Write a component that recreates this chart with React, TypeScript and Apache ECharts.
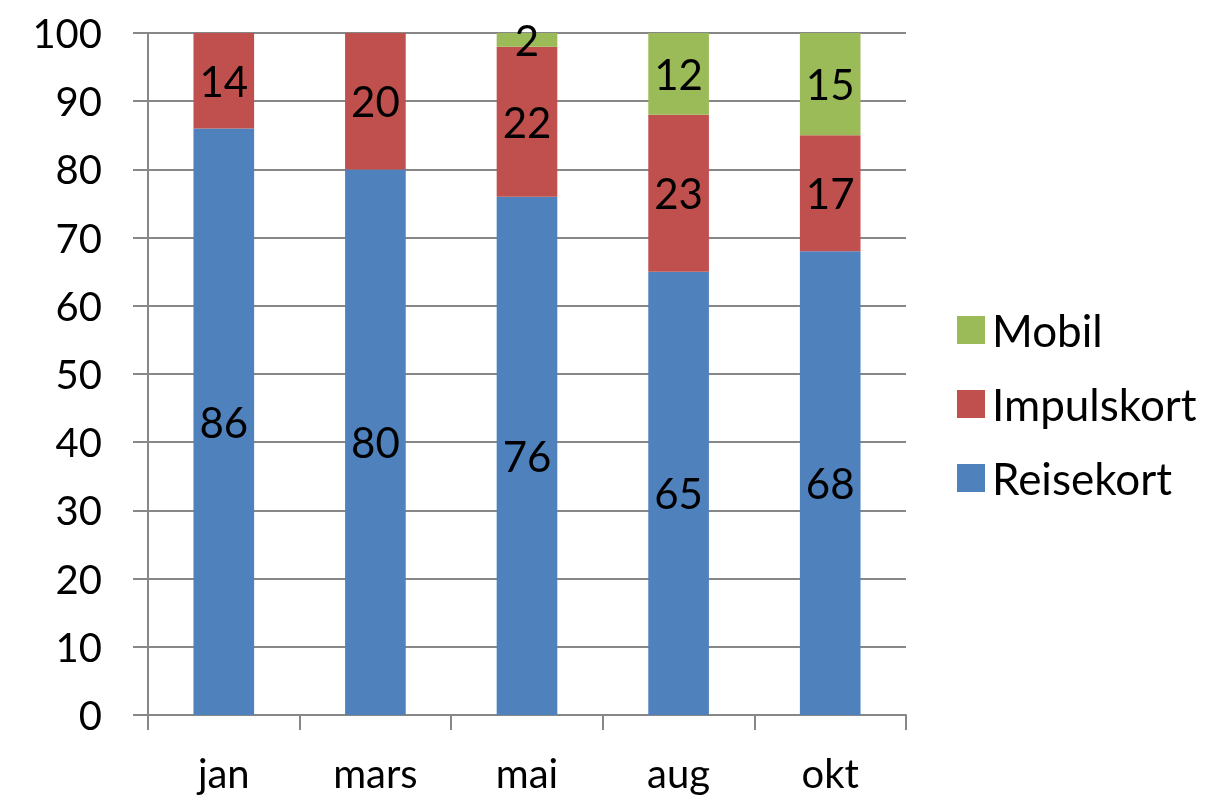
import React, { useEffect, useRef } from "react";
import * as echarts from "echarts";

const categories = ["jan", "mars", "mai", "aug", "okt"];
const reisekort = [86, 80, 76, 65, 68];
const impulskort = [14, 20, 22, 23, 17];
const mobil = [0, 0, 2, 12, 15];
const yTicks = { min: 0, max: 100, interval: 10 };

const FONT = "Lato";
const AXIS = "#878787";

export default function App() {
  const ref = useRef<HTMLDivElement>(null);
  useEffect(() => {
    if (!ref.current) return;
    const chart = echarts.init(ref.current, undefined, { renderer: "svg" });
    const label = {
      show: true,
      position: "inside",
      color: "#000",
      fontFamily: FONT,
      fontSize: 42,
      formatter: (p: any) => (p.value ? String(p.value) : ""),
    };
    const mk = (name: string, data: number[], color: string) => ({
      name,
      type: "bar",
      stack: "total",
      data,
      barWidth: "40%",
      itemStyle: { color },
      label,
    });
    chart.setOption({
      animation: false,
      grid: { left: 148, right: 316, top: 33, bottom: 86 },
      legend: {
        orient: "vertical",
        left: 952,
        top: 303,
        itemWidth: 28,
        itemHeight: 28,
        itemGap: 30,
        icon: "rect",
        data: ["Mobil", "Impulskort", "Reisekort"],
        textStyle: { fontFamily: FONT, fontSize: 44, lineHeight: 44, color: "#000", padding: [0, 0, 0, 2] },
      },
      xAxis: {
        type: "category",
        data: categories,
        axisLine: { lineStyle: { color: AXIS, width: 2 } },
        axisTick: { show: true, length: 15, interval: 0, alignWithLabel: false, lineStyle: { color: AXIS, width: 2 } },
        axisLabel: { margin: 38, fontFamily: FONT, fontSize: 40, color: "#000" },
      },
      yAxis: {
        type: "value",
        min: yTicks.min,
        max: yTicks.max,
        interval: yTicks.interval,
        axisLine: { show: true, lineStyle: { color: AXIS, width: 2 } },
        axisTick: { show: true, length: 15, lineStyle: { color: AXIS, width: 2 } },
        splitLine: { lineStyle: { color: AXIS, width: 2 } },
        axisLabel: { margin: 46, fontFamily: FONT, fontSize: 40, color: "#000" },
      },
      series: [
        mk("Reisekort", reisekort, "#4F81BD"),
        mk("Impulskort", impulskort, "#C0504D"),
        mk("Mobil", mobil, "#9BBB59"),
      ],
    });
    return () => chart.dispose();
  }, []);
  return <div ref={ref} style={{ position: "fixed", left: 0, top: 0, width: 1222, height: 801 }} />;
}
